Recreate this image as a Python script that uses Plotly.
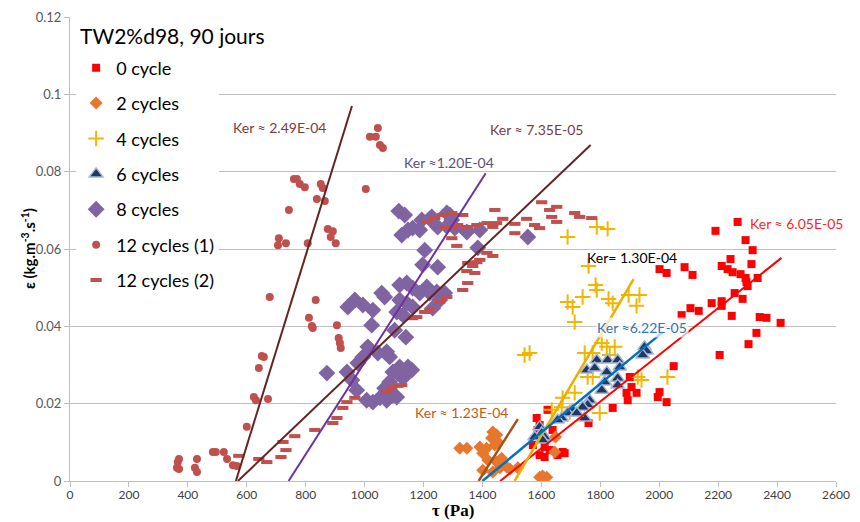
import plotly.graph_objects as go

# ---------------- data ----------------
series_names = ["0 cycle", "2 cycles", "4 cycles", "6 cycles", "8 cycles", "12 cycles (1)", "12 cycles (2)"]

x_0c = [2266, 2191, 2293, 2317, 2242, 2313, 2086, 2113, 2212, 2232, 2249, 2276, 2293, 2296, 2300, 2334,
        2256, 2283, 2178, 2212, 2212, 2106, 2134, 2076, 2246, 2341, 2364, 2412, 2330, 2303, 2205, 2001,
        2025, 2049, 2001, 2025, 1995, 1900, 1923, 1889, 1893, 1906, 1842, 1760, 1672, 1679, 1621, 1584,
        1594, 1587, 1638, 1604, 1571, 1611, 1594, 1628, 1655, 1611]
y_0c = [0.0670, 0.0647, 0.0623, 0.0597, 0.0574, 0.0561, 0.0553, 0.0533, 0.0556, 0.0548, 0.0540, 0.0535,
        0.0525, 0.0515, 0.0504, 0.0525, 0.0486, 0.0471, 0.0460, 0.0465, 0.0453, 0.0447, 0.0440, 0.0429,
        0.0427, 0.0424, 0.0422, 0.0409, 0.0383, 0.0354, 0.0326, 0.0548, 0.0538, 0.0297, 0.0230, 0.0204,
        0.0217, 0.0269, 0.0228, 0.0228, 0.0209, 0.0243, 0.0189, 0.0150, 0.0075, 0.0072, 0.0184, 0.0163,
        0.0145, 0.0132, 0.0132, 0.0111, 0.0093, 0.0088, 0.0067, 0.0080, 0.0067, 0.0062]

x_2c = [1435, 1448, 1431, 1452, 1442, 1323, 1347, 1391, 1401, 1414, 1418, 1448, 1465, 1482, 1459, 1401,
        1435, 1493, 1520, 1645, 1648, 1594, 1618, 1604]
y_2c = [0.0127, 0.0119, 0.0111, 0.0101, 0.0093, 0.0085, 0.0085, 0.0088, 0.0072, 0.0085, 0.0054, 0.0049,
        0.0059, 0.0036, 0.0034, 0.0028, 0.0023, 0.0031, 0.0034, 0.0075, 0.0114, 0.0010, 0.0010, 0.0013]

x_4c = [1788, 1825, 1689, 1760, 1784, 1788, 1740, 1689, 1706, 1713, 1828, 1842, 1896, 1933, 1923, 1747,
        1774, 1805, 1822, 1832, 1849, 1757, 1774, 1713, 1672, 1696, 1798, 1927, 1940, 2028, 1543, 1560,
        1635, 1669]
y_4c = [0.0657, 0.0652, 0.0631, 0.0556, 0.0507, 0.0494, 0.0476, 0.0463, 0.0450, 0.0411, 0.0471, 0.0460,
        0.0481, 0.0481, 0.0453, 0.0331, 0.0331, 0.0357, 0.0347, 0.0326, 0.0347, 0.0269, 0.0269, 0.0228,
        0.0215, 0.0178, 0.0176, 0.0269, 0.0261, 0.0269, 0.0326, 0.0331, 0.0184, 0.0191]

x_6c = [1950, 1957, 1944, 1788, 1825, 1859, 1866, 1754, 1781, 1822, 1815, 1805, 1859, 1859, 1764, 1757,
        1740, 1706, 1689, 1747, 1669, 1594, 1601, 1577, 1611, 1655, 1720, 1604]
y_6c = [0.0347, 0.0336, 0.0326, 0.0313, 0.0313, 0.0313, 0.0295, 0.0287, 0.0292, 0.0282, 0.0256, 0.0235,
        0.0266, 0.0248, 0.0209, 0.0197, 0.0191, 0.0184, 0.0176, 0.0163, 0.0163, 0.0140, 0.0124, 0.0114,
        0.0114, 0.0158, 0.0176, 0.0106]

x_8c = [1116, 1136, 1126, 1147, 1163, 1194, 1221, 1187, 1204, 1197, 1248, 1058, 1068, 1119, 1143, 1163,
        1187, 967, 943, 994, 1028, 1119, 1143, 1163, 1109, 1130, 1211, 1221, 1024, 1102, 1140, 1011, 994,
        1045, 977, 872, 940, 957, 973, 1096, 1119, 1143, 1130, 1085, 1068, 1007, 1028, 1052, 1075, 1109,
        1228, 1279, 1289, 1248, 1279, 1306, 1347, 1391, 1296, 1384, 1554, 1245, 1272, 1255, 1231, 1160,
        1075, 1085, 1096, 1147]
y_8c = [0.0698, 0.0688, 0.0636, 0.0649, 0.0654, 0.0675, 0.0678, 0.0649, 0.0597, 0.0559, 0.0553, 0.0486,
        0.0476, 0.0507, 0.0512, 0.0499, 0.0486, 0.0468, 0.0450, 0.0455, 0.0442, 0.0468, 0.0460, 0.0450,
        0.0437, 0.0429, 0.0502, 0.0486, 0.0403, 0.0390, 0.0372, 0.0347, 0.0321, 0.0331, 0.0305, 0.0279,
        0.0282, 0.0261, 0.0235, 0.0282, 0.0295, 0.0279, 0.0266, 0.0256, 0.0240, 0.0209, 0.0204, 0.0215,
        0.0209, 0.0217, 0.0683, 0.0693, 0.0688, 0.0657, 0.0659, 0.0654, 0.0644, 0.0649, 0.0675, 0.0603,
        0.0631, 0.0489, 0.0486, 0.0468, 0.0447, 0.0287, 0.0334, 0.0321, 0.0222, 0.0295]

x_12c1 = [1045, 1018, 1038, 1052, 1062, 760, 770, 780, 797, 851, 858, 838, 865, 1004, 743, 875, 892, 885,
          902, 709, 706, 733, 807, 678, 834, 811, 821, 824, 906, 912, 916, 919, 651, 658, 641, 624, 631,
          672, 600, 485, 495, 522, 533, 553, 566, 370, 366, 363, 370, 431, 424, 431]
y_12c1 = [0.0913, 0.0890, 0.0890, 0.0869, 0.0861, 0.0781, 0.0781, 0.0768, 0.0760, 0.0768, 0.0758, 0.0729,
          0.0724, 0.0755, 0.0701, 0.0652, 0.0646, 0.0631, 0.0615, 0.0628, 0.0610, 0.0615, 0.0615, 0.0476,
          0.0468, 0.0422, 0.0401, 0.0396, 0.0403, 0.0370, 0.0357, 0.0344, 0.0323, 0.0321, 0.0292, 0.0217,
          0.0209, 0.0212, 0.0140, 0.0075, 0.0075, 0.0075, 0.0057, 0.0041, 0.0039, 0.0057, 0.0049, 0.0034,
          0.0031, 0.0057, 0.0034, 0.0023]

x_12c2 = [573, 641, 668, 723, 733, 716, 763, 831, 892, 906, 926, 940, 967, 1075, 1092, 1126, 1113, 1163,
          1177, 1204, 1221, 1255, 1279, 1333, 1350, 1374, 1347, 1350, 1367, 1381, 1391, 1415, 1435, 1211,
          1238, 1265, 1296, 1272, 1296, 1316, 1333, 1296, 1313, 1350, 1381, 1415, 1435, 1442, 1469, 1448,
          1510, 1510, 1550, 1577, 1594, 1601, 1628, 1652, 1635, 1652, 1713, 1730, 1771]
y_12c2 = [0.0065, 0.0057, 0.0049, 0.0101, 0.0080, 0.0062, 0.0116, 0.0132, 0.0150, 0.0163, 0.0189, 0.0204,
          0.0215, 0.0230, 0.0240, 0.0248, 0.0246, 0.0421, 0.0424, 0.0437, 0.0442, 0.0463, 0.0476, 0.0494,
          0.0512, 0.0538, 0.0543, 0.0564, 0.0556, 0.0566, 0.0572, 0.0590, 0.0582, 0.0670, 0.0680, 0.0688,
          0.0693, 0.0657, 0.0654, 0.0662, 0.0688, 0.0628, 0.0608, 0.0657, 0.0662, 0.0667, 0.0657, 0.0701,
          0.0678, 0.0667, 0.0665, 0.0641, 0.0678, 0.0662, 0.0654, 0.0721, 0.0701, 0.0709, 0.0683, 0.0670,
          0.0693, 0.0683, 0.0680]

# trend lines: label, x start, x end, y start, y end
trend_labels = ["Ker ≈ 6.05E-05", "Ker ≈ 1.23E-04", "Ker= 1.30E-04", "Ker ≈6.22E-05",
                "Ker ≈1.20E-04", "Ker ≈ 2.49E-04", "Ker ≈ 7.35E-05"]
trend_x_start = [1460, 1387, 1509, 1400, 742, 563, 570]
trend_x_end = [2415, 1520, 1913, 2012, 1411, 957, 1767]
trend_y_start = [0.0, 0.0, 0.0, 0.0, 0.0, 0.0, 0.0]
trend_y_end = [0.0577, 0.0160, 0.0522, 0.0385, 0.0796, 0.0970, 0.0869]
# label anchor positions (data units)
label_x = [2466, 1330, 1906, 1940, 1286, 712, 1584]
label_y = [0.0665, 0.0178, 0.0579, 0.0398, 0.0825, 0.0913, 0.0910]

chart_title = "TW2%d98, 90 jours"
x_title = "<b>τ (Pa)</b>"
y_title = "<b>ε (kg.m<sup>-3</sup>.s<sup>-1</sup>)</b>"

# ---------------- styles ----------------
FONT = "Lato, 'Open Sans', sans-serif"
marker_styles = [
    dict(symbol="square", size=8, color="#FF0000"),
    dict(symbol="diamond", size=10, color="#E8772E"),
    dict(symbol="cross-thin", size=11, color="#FFC000", line=dict(color="#F2B600", width=2)),
    dict(symbol="triangle-up", size=12, color="#1F3864", line=dict(color="#A9B8D4", width=1.5)),
    dict(symbol="diamond", size=13, color="#8064A2"),
    dict(symbol="circle", size=8, color="#C0504D"),
    dict(symbol="line-ew", size=8, color="#C0504D", line=dict(color="#C0504D", width=4)),
]
trend_colors = ["#FF0000", "#A0521E", "#EAB000", "#0070C0", "#7030A0", "#632523", "#632523"]
trend_widths = [2, 2.5, 2.5, 2.5, 2, 2, 2]
label_colors = ["#FF1F1F", "#C55A11", "#000000", "#2E75B6", "#5A4F7A", "#7B3B3B", "#7B3B3B"]

xs = [x_0c, x_2c, x_4c, x_6c, x_8c, x_12c1, x_12c2]
ys = [y_0c, y_2c, y_4c, y_6c, y_8c, y_12c1, y_12c2]

fig = go.Figure()
for i, name in enumerate(series_names):
    fig.add_trace(go.Scatter(x=xs[i], y=ys[i], mode="markers", name=name,
                             legendgroup=name, marker=marker_styles[i]))

for i in range(len(trend_labels)):
    fig.add_trace(go.Scatter(x=[trend_x_start[i], trend_x_end[i]],
                             y=[trend_y_start[i], trend_y_end[i]],
                             mode="lines", showlegend=False, hoverinfo="skip",
                             line=dict(color=trend_colors[i], width=trend_widths[i])))
    ann = dict(x=label_x[i], y=label_y[i], text=trend_labels[i], showarrow=False,
               font=dict(family=FONT, size=14, color=label_colors[i]))
    if i == 3:
        ann["bgcolor"] = "rgba(255,255,255,0.7)"
    fig.add_annotation(**ann)

# chart title (top-left inside the plot)
fig.add_annotation(xref="paper", yref="paper", x=0.010, y=0.961, xanchor="left", yanchor="middle",
                   text=chart_title, showarrow=False,
                   font=dict(family=FONT, size=21, color="#000000"))
# axis titles
fig.add_annotation(xref="paper", yref="paper", x=0.5, y=-0.064, xanchor="center", yanchor="middle",
                   text=x_title, showarrow=False,
                   font=dict(family="'Liberation Serif', serif", size=17, color="#000000"))
fig.add_annotation(xref="paper", yref="paper", x=-0.0548, y=0.5, xanchor="center", yanchor="middle",
                   text=y_title, showarrow=False, textangle=-90,
                   font=dict(family=FONT, size=15, color="#000000"))

# The page body has an 8px margin: the figure is sized and padded so that the
# plot area lands where it does in the reference.
fig.update_layout(
    width=852, height=514,
    margin=dict(l=62, r=24, t=9, b=41),
    paper_bgcolor="white", plot_bgcolor="white",
    font=dict(family=FONT, color="#404040"),
    legend=dict(x=0.008, y=0.93, xanchor="left", yanchor="top", bgcolor="white",
                font=dict(family=FONT, size=18, color="#000000"),
                traceorder="grouped", tracegroupgap=9),
    xaxis=dict(range=[0, 2600], dtick=200, tick0=0, showgrid=False, zeroline=False,
               showline=True, linecolor="#BFBFBF", linewidth=1, ticks="outside",
               ticklen=5, tickcolor="#BFBFBF", automargin=False, ticklabelstandoff=-2,
               tickfont=dict(family=FONT, size=12, color="#404040")),
    yaxis=dict(range=[0, 0.12], dtick=0.02, tick0=0, showgrid=True, gridcolor="#BFBFBF",
               zeroline=False, showline=True, linecolor="#BFBFBF", ticks="outside",
               ticklen=5, tickcolor="#BFBFBF", automargin=False,
               tickfont=dict(family=FONT, size=13, color="#595959")),
)

fig.write_html("out.html")
